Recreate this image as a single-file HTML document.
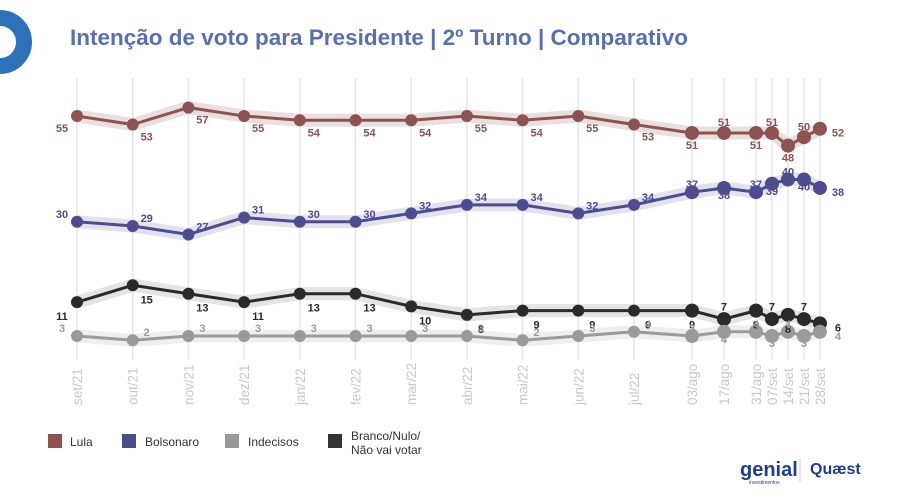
<!DOCTYPE html>
<html><head><meta charset="utf-8"><style>
body{margin:0;background:#fff;width:900px;height:503px;overflow:hidden;font-family:"Liberation Sans",sans-serif}
</style></head><body>
<svg width="900" height="503" style="position:absolute;left:0;top:0">
<circle cx="0" cy="42" r="24" fill="none" stroke="#2d72b8" stroke-width="16"/>
<text x="70" y="45" font-size="22.5" font-weight="bold" fill="#5a6fae">Intenção de voto para Presidente | 2º Turno | Comparativo</text>
<g id="grid"></g><g id="bands"></g><g id="lines"></g><g id="labels"></g><g id="xt"></g>
<g font-size="12" fill="#333">
<rect x="48" y="434" width="14" height="14" fill="#8b5452"/><text x="70" y="446">Lula</text>
<rect x="122" y="434" width="14" height="14" fill="#4e4b8f"/><text x="145" y="446">Bolsonaro</text>
<rect x="225" y="434" width="14" height="14" fill="#999"/><text x="248" y="446">Indecisos</text>
<rect x="328" y="434" width="14" height="14" fill="#333"/><text x="351" y="440">Branco/Nulo/</text><text x="351" y="454">Não vai votar</text>
</g>
<text x="740" y="476" font-size="20" fill="#1f3d8c" font-weight="bold">genial</text>
<text x="749" y="484" font-size="5" fill="#1f3d8c">investimentos</text>
<line x1="800" y1="458" x2="800" y2="482" stroke="#ccd"/>
<text x="810" y="474" font-size="16" fill="#1f3d8c" font-weight="bold">Quæst</text>
</svg>
<script>
const cats=["set/21","out/21","nov/21","dez/21","jan/22","fev/22","mar/22","abr/22","mai/22","jun/22","jul/22","03/ago","17/ago","31/ago","07/set","14/set","21/set","28/set"];
const weekDays=[0,14,28,35,42,49,56];
const lula=[55,53,57,55,54,54,54,55,54,55,53,51,51,51,51,48,50,52];
const bolso=[30,29,27,31,30,30,32,34,34,32,34,37,38,37,39,40,40,38];
const branco=[11,15,13,11,13,13,10,8,9,9,9,9,7,9,7,8,7,6];
const indec=[3,2,3,3,3,3,3,3,2,3,4,3,4,4,3,4,3,4];
const NS="http://www.w3.org/2000/svg";
function x(i){return i<11?77+i*55.7:692+weekDays[i-11]*2.285;}
function y(v){return 348.7-4.23*v;}
function mk(t,a,p){const e=document.createElementNS(NS,t);for(const k in a)e.setAttribute(k,a[k]);document.getElementById(p).appendChild(e);return e;}
cats.forEach((c,i)=>{
 const g=mk('line',{x1:x(i),x2:x(i),y1:78,y2:360,stroke:'#e6e6e6','stroke-width':1.5},'grid');
 
 
 const t=mk('text',{transform:`translate(${x(i)+5},${405}) rotate(-90)`,'text-anchor':'start','font-size':13.5,fill:'#c8c8c8'},'xt');
 t.textContent=c;
 
 
});
const series=[[lula,'#8b5452','#eadede',12,'lula'],[bolso,'#4e4b8f','#e2e2ee',-8,'bolsonaro'],[branco,'#2a2a2a','#e4e4e4',14,'branco'],[indec,'#9a9a9a','#eeeeee',-8,'indecisos']];
series.forEach(([d,c,b,off,n])=>{
 const pts=d.map((v,i)=>x(i)+','+y(v)).join(' ');
 const band=mk('polyline',{points:pts,fill:'none',stroke:b,'stroke-width':13,'stroke-linejoin':'round'},'bands');
 
 
 const l=mk('polyline',{points:pts,fill:'none',stroke:c,'stroke-width':3},'lines');
 
 
 d.forEach((v,i)=>{
  const p=mk('circle',{cx:x(i),cy:y(v),r:i<11?6:7,fill:c},'lines');
  
  
  const dx=i<11?(i==0?-15:14):(i==17?18:0);
  const dy=i==17?4:(i<11?off:(i%2?off:-off*0.9));
  const t=mk('text',{x:x(i)+dx,y:y(v)+dy+4,'text-anchor':'middle','font-size':11,'font-weight':'bold',fill:c},'labels');
  t.textContent=v;
  
  
 });
});
</script>
</body></html>
